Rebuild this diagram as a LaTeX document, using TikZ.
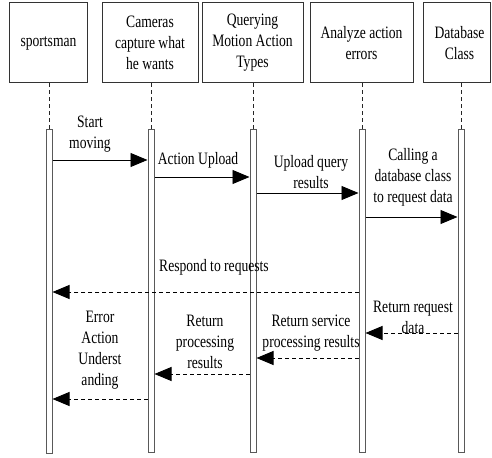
\documentclass[tikz,border=0pt]{standalone}
\usepackage{fontspec}
\setmainfont{Liberation Serif}[FakeStretch=0.78]
\usetikzlibrary{arrows.meta}
\begin{document}
\begin{tikzpicture}[x=1bp,y=-1bp,
  every node/.style={font=\fontsize{17.5}{21}\selectfont, align=center},
  objbox/.style={draw=black!80, line width=1bp, inner sep=0pt},
  actbar/.style={draw=black!65, fill=white, line width=1bp, minimum width=6bp, inner sep=0pt},
  life/.style={draw=black!85, line width=0.8bp, dash pattern=on 4bp off 3bp},
  msg/.style={draw=black, line width=0.9bp, -{Triangle[length=17bp,width=14bp]}},
  ret/.style={msg, dash pattern=on 4bp off 3bp},
  lbl/.style={inner sep=0pt}]
\useasboundingbox (0,0) rectangle (492,458);
% object boxes
\node[objbox, minimum width=77bp, minimum height=80bp] (b1) at (48.5,43) {sportsman};
\node[objbox, minimum width=96bp, minimum height=80bp] (b2) at (150,43) {Cameras\\capture what\\he wants};
\node[objbox, minimum width=101bp, minimum height=80bp] (b3) at (252.5,43) {Querying\\Motion Action\\Types};
\node[objbox, minimum width=103bp, minimum height=80bp] (b4) at (361.5,43) {Analyze action\\errors};
\node[objbox, minimum width=67bp, minimum height=80bp] (b5) at (456.5,43) {\hspace*{6bp}Database\\\hspace*{6bp}Class};
% activation bars
\node[actbar, minimum height=323bp] (a1) at (49,291.5) {};
\node[actbar, minimum height=322bp] (a2) at (151,291) {};
\node[actbar, minimum height=322bp] (a3) at (253,291) {};
\node[actbar, minimum height=322bp] (a4) at (362,291) {};
\node[actbar, minimum height=322bp] (a5) at (461,291) {};
% lifelines
\foreach \i in {1,...,5} {
  \draw[life] (b\i.south -| a\i.north) -- (a\i.north);
}
% messages
\draw[msg] (a1.east |- 0,160) -- (a2.west |- 0,160);
\node[lbl] (m1) at (90,134.5) {Start\\moving};
\draw[msg] (a2.east |- 0,177) -- (a3.west |- 0,177);
\node[lbl] (m2) at (198,160) {Action Upload};
\draw[msg] (a3.east |- 0,193) -- (a4.west |- 0,193);
\node[lbl] (m3) at (311,172) {Upload query\\results};
\draw[msg] (a4.east |- 0,217) -- (a5.west |- 0,217);
\node[lbl] (m4) at (413,177) {Calling a\\database class\\to request data};
\draw[ret] (a4.west |- 0,292) -- (a1.east |- 0,292);
\node[lbl] (m5) at (214,267) {Respond to requests};
\draw[ret] (a5.west |- 0,333) -- (a4.east |- 0,333);
\node[lbl] (m6) at (413,317) {Return request\\data};
\draw[ret] (a4.west |- 0,358) -- (a3.east |- 0,358);
\node[lbl] (m7) at (311,333) {Return service\\processing results};
\draw[ret] (a3.west |- 0,374) -- (a2.east |- 0,374);
\node[lbl] (m8) at (205,342) {Return\\processing\\results};
\draw[ret] (a2.west |- 0,399) -- (a1.east |- 0,399);
\node[lbl] (m9) at (100,350.5) {Error\\Action\\Underst\\anding};
\end{tikzpicture}
\end{document}
